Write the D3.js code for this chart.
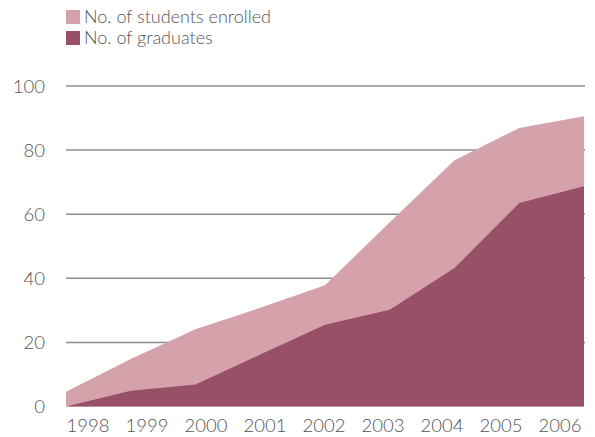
<!DOCTYPE html>
<html>
<head>
<meta charset="utf-8">
<script src="https://cdn.jsdelivr.net/npm/d3@7"></script>
<style>
  html, body { margin: 0; padding: 0; background: #fff; }
  svg { display: block; }
  text { font-family: Lato, "Open Sans", sans-serif; font-weight: 300; fill: #555; }
</style>
</head>
<body>
<svg id="chart" width="595" height="437"></svg>
<script>
// Years on the horizontal axis
const years = ["1998", "1999", "2000", "2001", "2002", "2003", "2004", "2005", "2006"];
// Students enrolled per year
const enrolled = [4.6, 14.8, 24.1, 30.8, 37.8, 57.5, 76.8, 86.9, 90.6];
// Graduates per year
const graduates = [0, 4.9, 6.9, 16.2, 25.5, 30.2, 43.2, 63.5, 68.7];
// Vertical axis ticks
const yTicks = [0, 20, 40, 60, 80, 100];
// Legend entries
const seriesNames = ["No. of students enrolled", "No. of graduates"];
const seriesColors = ["#d5a1ab", "#975067"];

const svg = d3.select("#chart");

const x = d3.scalePoint().domain(years).range([66, 584]);
const xLabel = d3.scalePoint().domain(years).range([88, 560]);
const y = d3.scaleLinear().domain([0, 100]).range([406.5, 86]);

// Horizontal gridlines
svg.append("g")
  .selectAll("line")
  .data(yTicks.filter(d => d > 0))
  .join("line")
  .attr("x1", 66).attr("x2", 585)
  .attr("y1", d => y(d)).attr("y2", d => y(d))
  .attr("stroke", "#8c8c8c").attr("stroke-width", 1.5);

// Y tick labels
svg.append("g")
  .selectAll("text")
  .data(yTicks)
  .join("text")
  .attr("x", 45)
  .attr("y", d => y(d) + 6.5)
  .attr("text-anchor", "end")
  .attr("font-size", 18.5)
  .text(d => d);

// Overlapping areas, each measured from zero
const area = vals => d3.area()
  .x((d, i) => x(years[i]))
  .y0(y(0))
  .y1(d => y(d))(vals);

svg.append("path").attr("d", area(enrolled)).attr("fill", seriesColors[0]);
svg.append("path").attr("d", area(graduates)).attr("fill", seriesColors[1]);

// Year labels
svg.append("g")
  .selectAll("text")
  .data(years)
  .join("text")
  .attr("x", d => xLabel(d))
  .attr("y", 432)
  .attr("text-anchor", "middle")
  .attr("font-size", 18.5)
  .text(d => d);

// Legend
const legend = svg.append("g")
  .selectAll("g")
  .data(seriesNames)
  .join("g")
  .attr("transform", (d, i) => `translate(66, ${10 + i * 21})`);
legend.append("rect")
  .attr("width", 14).attr("height", 14)
  .attr("fill", (d, i) => seriesColors[i]);
legend.append("text")
  .attr("x", 18).attr("y", 13)
  .attr("font-size", 18)
  .text(d => d);
</script>
</body>
</html>
